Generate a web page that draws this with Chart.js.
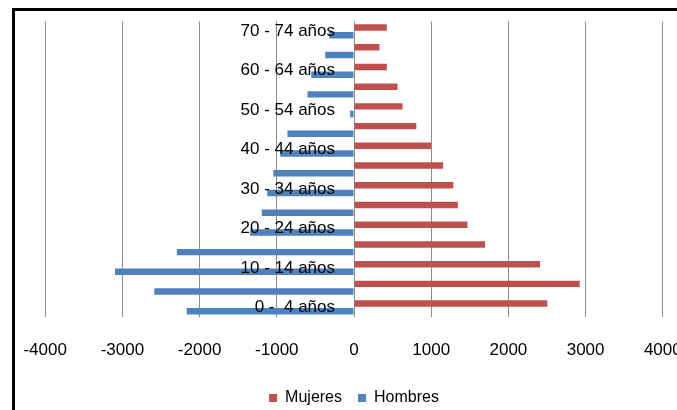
<!DOCTYPE html>
<html lang="es">
<head>
<meta charset="utf-8">
<title>Pirámide de población</title>
<script src="https://cdn.jsdelivr.net/npm/chart.js@4.4.1/dist/chart.umd.min.js"></script>
<style>
  html, body { margin: 0; padding: 0; background: #fff; overflow: hidden; width: 677px; height: 410px; }
  #wrap { position: absolute; left: 0; top: 0; width: 700px; height: 416px; }
  #frame { position: absolute; left: 12px; top: 8px; width: 800px; height: 500px;
           border-left: 3px solid #000; border-top: 3px solid #000; pointer-events: none; }
</style>
</head>
<body>
<div id="frame"></div>
<div id="wrap"><canvas id="chart"></canvas></div>
<script>
// Age groups, youngest first
const grupos = ['0 -  4 años', '5 - 9 años', '10 - 14 años', '15 - 19 años', '20 - 24 años',
  '25 - 29 años', '30 - 34 años', '35 - 39 años', '40 - 44 años', '45 - 49 años',
  '50 - 54 años', '55 - 59 años', '60 - 64 años', '65 - 69 años', '70 - 74 años'];

// Women to the right of zero
const mujeres = [2504, 2924, 2409, 1697, 1470, 1345, 1286, 1154, 997, 807, 628, 564, 425, 330, 425];

// Men to the left of zero (negative)
const hombres = [-2167, -2587, -3096, -2295, -1345, -1195, -1124, -1044, -955, -862, -50, -602, -553, -373, -321];

// Value axis ticks
const ejeValores = [-4000, -3000, -2000, -1000, 0, 1000, 2000, 3000, 4000];

const ROJO = '#C0504D';
const AZUL = '#4F81BD';
const FUENTE = "'Liberation Sans', Arial, sans-serif";

new Chart(document.getElementById('chart'), {
  type: 'bar',
  data: {
    labels: grupos,
    datasets: [
      { label: 'Mujeres', data: mujeres, backgroundColor: ROJO, borderWidth: 0,
        categoryPercentage: 0.78, barPercentage: 0.84 },
      { label: 'Hombres', data: hombres, backgroundColor: AZUL, borderWidth: 0,
        categoryPercentage: 0.78, barPercentage: 0.84 }
    ]
  },
  options: {
    indexAxis: 'y',
    responsive: true,
    maintainAspectRatio: false,
    animation: false,
    layout: { padding: { left: 45.2, right: 37.2, top: 21.5, bottom: 0 } },
    scales: {
      x: {
        type: 'linear',
        min: ejeValores[0],
        max: ejeValores[ejeValores.length - 1],
        afterBuildTicks: (scale) => { scale.ticks = ejeValores.map(v => ({ value: v })); },
        grid: { color: '#8c8c8c', lineWidth: 1, drawTicks: true, tickLength: 9, tickColor: 'rgba(255,255,255,0)' },
        border: { display: false },
        ticks: {
          padding: 13.65,
          color: '#000',
          font: { family: FUENTE, size: 17 },
          callback: (v) => String(v)
        }
      },
      y: {
        type: 'category',
        // category labels hang just left of the zero line, drawn over the bars
        position: { x: -246 },
        reverse: true,
        grid: { display: false },
        border: { display: false },
        ticks: {
          z: 1,
          autoSkip: false,
          padding: 0,
          color: '#000',
          font: { family: FUENTE, size: 17 },
          callback: (v, i) => (i % 2 === 0 ? grupos[i] : '')
        }
      }
    },
    plugins: {
      legend: {
        position: 'bottom',
        labels: {
          boxWidth: 8,
          boxHeight: 8,
          padding: 16,
          color: '#000',
          font: { family: FUENTE, size: 16 }
        }
      },
      tooltip: { enabled: false }
    }
  }
});
</script>
</body>
</html>
